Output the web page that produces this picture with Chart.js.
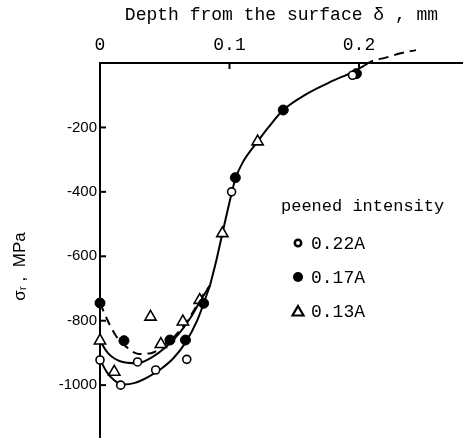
<!DOCTYPE html>
<html><head><meta charset="utf-8">
<script src="https://cdn.jsdelivr.net/npm/chart.js@4/dist/chart.umd.min.js"></script>
<style>html,body{margin:0;padding:0;background:#fff;overflow:hidden}canvas{display:block}</style>
</head><body><canvas id="c" width="463" height="442" style="width:463px;height:442px"></canvas>
<script>
// ---- data ----
const xTickValues = [0, 0.1, 0.2];
const xTickLabels = ['0', '0.1', '0.2'];
const yTickValues = [-200, -400, -600, -800, -1000];
const yTickLabels = ['-200', '-400', '-600', '-800', '-1000'];
const seriesNames = ['0.22A', '0.17A', '0.13A'];
const legendTitle = 'peened intensity';
const xTitle = 'Depth from the surface \u03B4 , mm';
const yTitle = '\u03C3\u1D63 ,  MPa';

// measured points
const depth022 = [0, 0.016, 0.029, 0.043, 0.067, 0.1016, 0.195];
const stress022 = [-922, -1000, -928, -953, -920, -400, -38];
const depth017 = [0, 0.0185, 0.054, 0.066, 0.080, 0.1045, 0.1415, 0.198];
const stress017 = [-745, -862, -860, -860, -746, -356, -146, -33];
const depth013 = [0, 0.011, 0.039, 0.047, 0.064, 0.077, 0.0945, 0.1217];
const stress013 = [-862, -959, -788, -873, -803, -736, -529, -244];

// drawn curves
const curveLowDepth = [0, 0.005, 0.011, 0.018, 0.027, 0.037, 0.047, 0.057, 0.066, 0.075, 0.085];
const curveLowStress = [-920, -958, -985, -998, -993, -975, -950, -915, -868, -800, -690];
const curveMidDepth = [0, 0.006, 0.015, 0.029, 0.040, 0.050, 0.060, 0.070, 0.078, 0.085];
const curveMidStress = [-862, -900, -925, -932, -914, -885, -845, -790, -735, -690];
const curveDashDepth = [0, 0.006, 0.012, 0.020, 0.030, 0.040, 0.050, 0.060, 0.070, 0.078, 0.085];
const curveDashStress = [-745, -800, -845, -880, -903, -900, -875, -838, -785, -730, -690];
const curveMainDepth = [0.085, 0.090, 0.0945, 0.1016, 0.1045, 0.110, 0.1217, 0.130, 0.1415, 0.160, 0.180, 0.195, 0.204];
const curveMainStress = [-690, -610, -529, -405, -360, -310, -244, -200, -146, -95, -55, -28, -8];
const curveTailDepth = [0.204, 0.210, 0.220, 0.232, 0.244];
const curveTailStress = [-8, 6, 16, 30, 40];

const pts = (xs, ys) => xs.map((x, i) => ({x, y: ys[i]}));

const lineBase = {type: 'line', borderColor: '#000', borderWidth: 2, pointRadius: 0,
  cubicInterpolationMode: 'monotone', fill: false, clip: false};

const insideTicks = {
  id: 'insideTicks',
  afterDraw(chart) {
    const ctx = chart.ctx, a = chart.chartArea;
    const xs = chart.scales.x, ys = chart.scales.y;
    ctx.save();
    ctx.strokeStyle = '#000'; ctx.lineWidth = 2;
    yTickValues.forEach(v => {
      const py = ys.getPixelForValue(v);
      ctx.beginPath(); ctx.moveTo(a.left, py); ctx.lineTo(a.left + 6, py); ctx.stroke();
    });
    xTickValues.forEach(v => {
      if (v === 0) return;
      const px = xs.getPixelForValue(v);
      ctx.beginPath(); ctx.moveTo(px, a.top); ctx.lineTo(px, a.top + 6); ctx.stroke();
    });
    ctx.restore();
  }
};

const legendPlugin = {
  id: 'customLegend',
  afterDraw(chart) {
    const ctx = chart.ctx;
    ctx.save();
    ctx.fillStyle = '#000'; ctx.strokeStyle = '#000';
    ctx.textBaseline = 'middle'; ctx.textAlign = 'left';
    ctx.font = '17px "Liberation Mono", "DejaVu Sans Mono", monospace';
    ctx.fillText(legendTitle, 281, 206);
    ctx.font = '18px "Liberation Mono", "DejaVu Sans Mono", monospace';
    const ys = [243, 277, 311];
    const mx = 298;
    ctx.lineWidth = 2.5;
    ctx.beginPath(); ctx.arc(mx, ys[0], 3.2, 0, Math.PI * 2); ctx.stroke();
    ctx.beginPath(); ctx.arc(mx, ys[1], 5, 0, Math.PI * 2); ctx.fill();
    ctx.lineWidth = 2.2;
    ctx.beginPath(); ctx.moveTo(mx, ys[2] - 5); ctx.lineTo(mx + 5.5, ys[2] + 4.5); ctx.lineTo(mx - 5.5, ys[2] + 4.5); ctx.closePath(); ctx.stroke();
    seriesNames.forEach((n, i) => ctx.fillText(n, 311, ys[i] + 1));
    ctx.restore();
  }
};

new Chart(document.getElementById('c'), {
  data: {
    datasets: [
      {type: 'scatter', label: seriesNames[0], data: pts(depth022, stress022), pointStyle: 'circle',
        pointRadius: 4, pointBackgroundColor: '#fff', pointBorderColor: '#000', pointBorderWidth: 1.6, clip: false},
      {type: 'scatter', label: seriesNames[1], data: pts(depth017, stress017), pointStyle: 'circle',
        pointRadius: 5, pointBackgroundColor: '#000', pointBorderColor: '#000', pointBorderWidth: 1, clip: false},
      {type: 'scatter', label: seriesNames[2], data: pts(depth013, stress013), pointStyle: 'triangle',
        pointRadius: 6.5, pointBackgroundColor: '#fff', pointBorderColor: '#000', pointBorderWidth: 1.6, clip: false},
      Object.assign({}, lineBase, {label: 'c1', data: pts(curveLowDepth, curveLowStress)}),
      Object.assign({}, lineBase, {label: 'c2', data: pts(curveMidDepth, curveMidStress)}),
      Object.assign({}, lineBase, {label: 'c3', data: pts(curveDashDepth, curveDashStress), borderDash: [9, 6]}),
      Object.assign({}, lineBase, {label: 'c4', data: pts(curveMainDepth, curveMainStress)}),
      Object.assign({}, lineBase, {label: 'c5', data: pts(curveTailDepth, curveTailStress), borderDash: [10, 6]})
    ]
  },
  options: {
    responsive: false, animation: false, devicePixelRatio: 1,
    layout: {autoPadding: false, padding: {top: 0, left: 0, right: 0, bottom: 5}},
    plugins: {legend: {display: false}, tooltip: {enabled: false}},
    scales: {
      x: {
        type: 'linear', position: 'top', min: 0, max: 0.2803,
        afterBuildTicks: s => { s.ticks = xTickValues.map(v => ({value: v})); },
        afterFit: s => { s.height = 63; s.paddingLeft = 0; s.paddingRight = 0; },
        grid: {display: false, drawTicks: false},
        border: {display: true, color: '#000', width: 2},
        ticks: {padding: 7, color: '#000', maxRotation: 0,
          font: {family: '"Liberation Mono", "DejaVu Sans Mono", monospace', size: 18},
          callback: (v) => { const i = xTickValues.indexOf(v); return i >= 0 ? xTickLabels[i] : ''; }},
        title: {display: true, text: xTitle, color: '#000', padding: {top: 4, bottom: 0},
          font: {family: '"Liberation Mono", "DejaVu Sans Mono", monospace', size: 18}}
      },
      y: {
        type: 'linear', position: 'left', min: -1161, max: 0,
        afterBuildTicks: s => { s.ticks = yTickValues.map(v => ({value: v})); },
        afterFit: s => { s.width = 100; s.paddingTop = 0; s.paddingBottom = 0; },
        grid: {display: false, drawTicks: false},
        border: {display: true, color: '#000', width: 2},
        ticks: {padding: 3, color: '#000',
          font: {family: '"Liberation Sans", Arial, sans-serif', size: 15},
          callback: (v) => { const i = yTickValues.indexOf(v); return i >= 0 ? yTickLabels[i] : ''; }},
        title: {display: true, text: yTitle + '       ', color: '#000', padding: {top: 10, bottom: 0},
          font: {family: '"Liberation Sans", "DejaVu Sans", sans-serif', size: 17}}
      }
    }
  },
  plugins: [insideTicks, legendPlugin]
});
</script>
</body></html>
